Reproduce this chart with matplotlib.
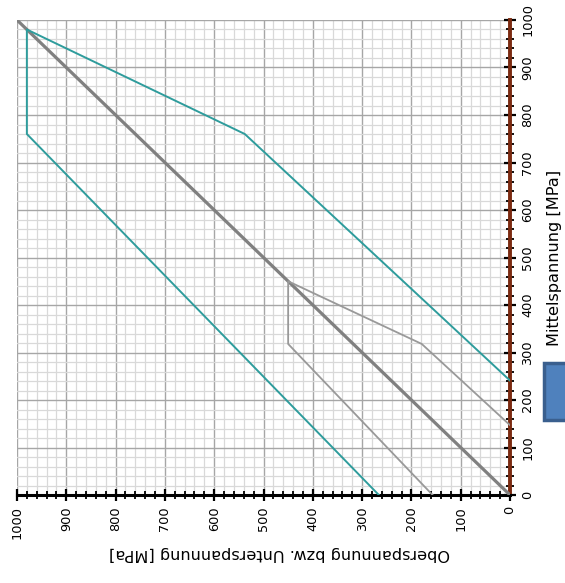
import numpy as np
import matplotlib.pyplot as plt
from matplotlib.patches import Rectangle
from matplotlib.ticker import MultipleLocator

# Smith-Diagramm, gedreht dargestellt
# diagonale (Mittelspannung = Spannung)
diag_x = [1000, 0]
diag_y = [1000, 0]

# aeussere Grenzlinie (tuerkis)
outer_x = [266, 980, 980, 538, 0]
outer_y = [0, 760, 980, 760, 241]

# innere Grenzlinie (grau)
inner_x = [157, 450, 450, 179, 0]
inner_y = [0, 318, 450, 318, 147]

xticks = np.arange(0, 1001, 100)
yticks = np.arange(0, 1001, 100)

fig = plt.figure(figsize=(5.65, 5.83), dpi=100)
ax = fig.add_axes([17/565, 1-495/583, 493/565, 475/583])

ax.plot(diag_x, diag_y, color='#808080', lw=2.3, zorder=3)
ax.plot(outer_x, outer_y, color='#2E9C9C', lw=1.4, zorder=3)
ax.plot(inner_x, inner_y, color='#999999', lw=1.3, zorder=3)

ax.set_xlim(1000, 0)
ax.set_ylim(0, 1000)
ax.set_xticks(xticks)
ax.set_yticks(yticks)
ax.xaxis.set_minor_locator(MultipleLocator(20))
ax.yaxis.set_minor_locator(MultipleLocator(20))
ax.grid(which='major', color='#A6A6A6', lw=1.0, zorder=0)
ax.grid(which='minor', color='#D9D9D9', lw=0.9, zorder=0)
ax.set_axisbelow(True)

ax.yaxis.tick_right()
ax.yaxis.set_label_position('right')
for s in ['top', 'left']:
    ax.spines[s].set_visible(False)
ax.spines['bottom'].set_color('black')
ax.spines['bottom'].set_linewidth(2.2)
ax.spines['right'].set_color('#7B2A10')
ax.spines['right'].set_linewidth(2.8)

ax.tick_params(which='major', direction='inout', length=8, width=1.6, color='black')
ax.tick_params(which='minor', direction='inout', length=6, width=1.3, color='black')
ax.tick_params(axis='x', which='major', labelrotation=90, labelsize=9.3, pad=4)
ax.tick_params(axis='y', which='major', labelrotation=90, labelsize=9.3, pad=4)
for lbl in ax.get_yticklabels():
    lbl.set_va('center')

ax.set_xlabel('Oberspannung bzw. Unterspannung [MPa]', rotation=180, fontsize=11.6, labelpad=5)
ax.xaxis.label.set_x(0.532)
ax.set_ylabel('Mittelspannung [MPa]', rotation=90, fontsize=11.6, labelpad=9)

fig.patches.append(Rectangle((544/565, 1-420/583), 30/565, 57/583,
                             transform=fig.transFigure, facecolor='#4F81BD',
                             edgecolor='#3A5F8E', lw=2.5, zorder=5))

fig.savefig('out.png', dpi=100)
